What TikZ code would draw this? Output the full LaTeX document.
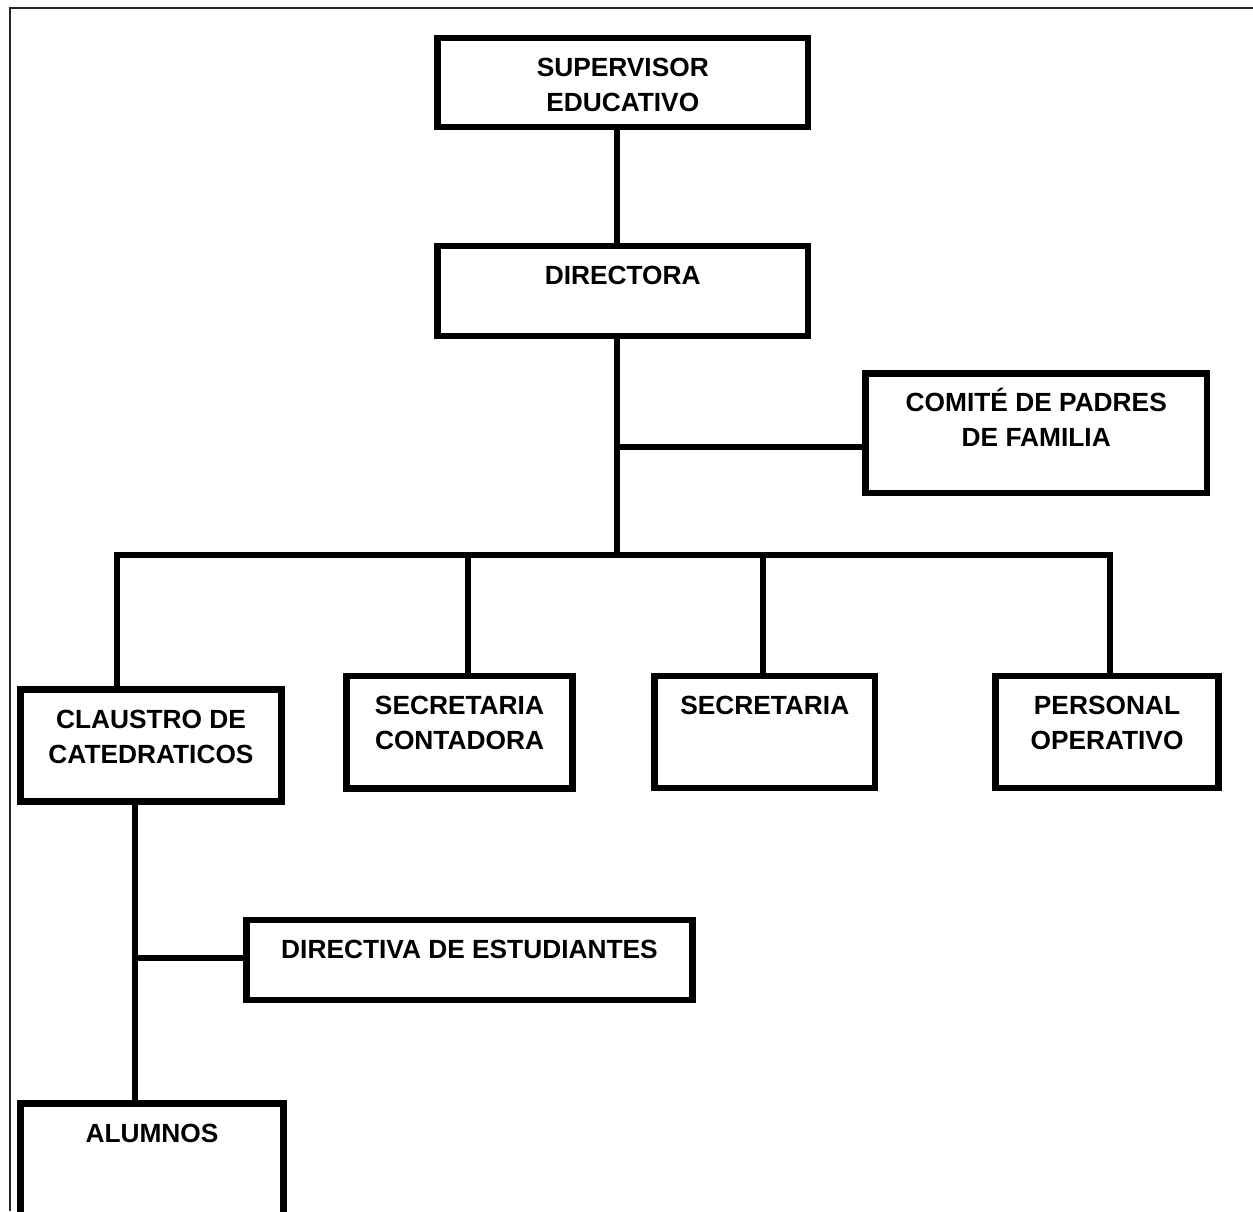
\documentclass[tikz,border=0pt]{standalone}
\usepackage{fontspec}
\setmainfont{Liberation Sans}
\begin{document}
\begin{tikzpicture}[x=1pt,y=-1pt,
  box/.style={draw, line width=6.5pt, rectangle, outer sep=0pt, inner sep=0pt, line join=miter},
  lab/.style={anchor=north, inner sep=0pt, align=center, font=\bfseries\fontsize{26.3}{35}\selectfont, yshift=-20pt},
  conn/.style={line width=6.5pt, line join=miter}]
\useasboundingbox (0,0) rectangle (1253,1211);
\clip (0,0) rectangle (1253,1211);
\fill[white] (0,0) rectangle (1253,1211);

% outer frame (top and left edges only)
\coordinate (fBL) at (9.5,1211);
\coordinate (fTL) at (9.5,8);
\coordinate (fTR) at (1253,8);
\draw[line width=2pt, black!85] (fBL) -- (fTL) -- (fTR);

% boxes
\node[box, minimum width=370.5pt, minimum height=89pt, label={[lab]north:SUPERVISOR\\EDUCATIVO}] (sup) at (622.75,82.5) {};
\node[box, minimum width=370.5pt, minimum height=90pt, label={[lab]north:DIRECTORA}] (dir) at (622.75,291) {};
\node[box, minimum width=341.5pt, minimum height=119.5pt, label={[lab,yshift=6pt]north:COMITÉ DE PADRES\\DE FAMILIA}] (comite) at (1036.25,433.25) {};
\node[box, minimum width=261pt, minimum height=112pt, label={[lab]north:CLAUSTRO DE\\CATEDRATICOS}] (claustro) at (151,745.5) {};
\node[box, minimum width=226pt, minimum height=112.5pt, label={[lab]north:SECRETARIA\\CONTADORA}] (sc) at (459.5,732.25) {};
\node[box, minimum width=220.5pt, minimum height=112pt, label={[lab]north:SECRETARIA}] (sec) at (764.75,732) {};
\node[box, minimum width=223pt, minimum height=112pt, label={[lab]north:PERSONAL\\OPERATIVO}] (pers) at (1107,732) {};
\node[box, minimum width=446pt, minimum height=80pt, label={[lab]north:DIRECTIVA DE ESTUDIANTES}] (directiva) at (469.5,960) {};
\node[box, minimum width=263pt, minimum height=200pt, label={[lab]north:ALUMNOS}] (alumnos) at (152,1203.5) {};

% junction coordinates
\coordinate (spine) at (617,447);
\coordinate (busL) at (117,555);
\coordinate (busM) at (617,555);
\coordinate (busR) at (1110,555);
\coordinate (dropSC) at (468,555);
\coordinate (dropSec) at (763,555);
\coordinate (stu) at (135,958);

% connectors
\draw[conn] (sup.south -| spine) -- (dir.north -| spine);
\draw[conn] (dir.south -| spine) -- (busM);
\draw[conn] (spine) -- (spine -| comite.west);
\draw[conn] (claustro.north -| busL) -- (busL) -- (busR) -- (pers.north -| busR);
\draw[conn] (dropSC) -- (dropSC |- sc.north);
\draw[conn] (dropSec) -- (dropSec |- sec.north);
\draw[conn] (claustro.south -| stu) -- (alumnos.north -| stu);
\draw[conn] (stu) -- (stu -| directiva.west);
\end{tikzpicture}
\end{document}
